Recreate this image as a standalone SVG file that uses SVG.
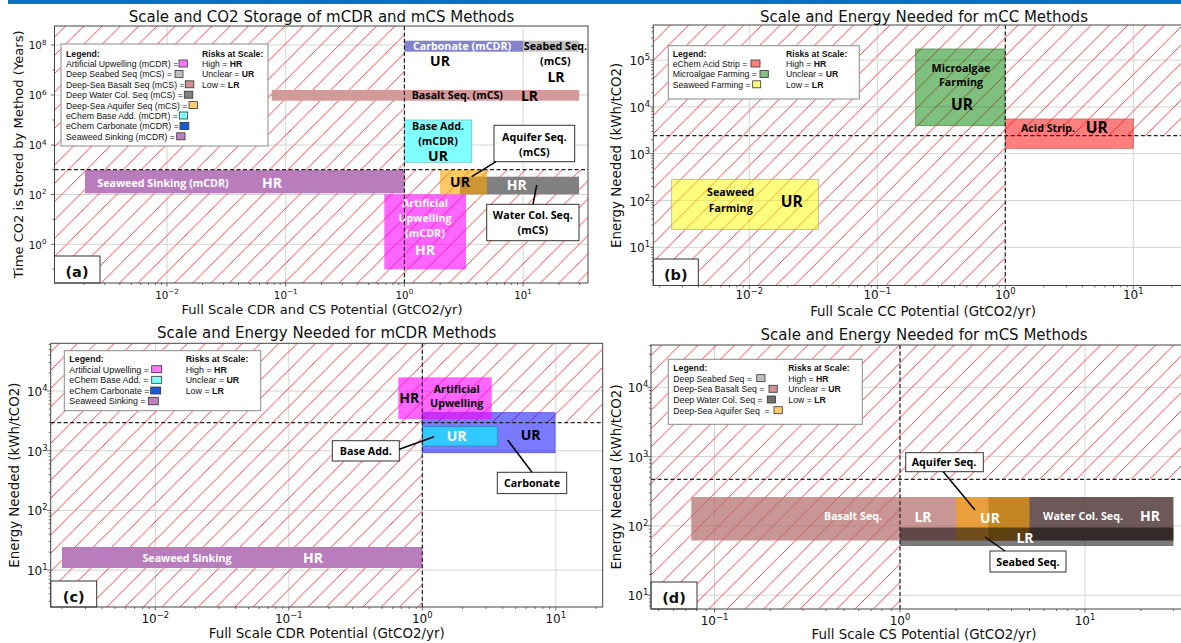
<svg xmlns="http://www.w3.org/2000/svg" width="1181" height="643" viewBox="0 0 1181 643">
<defs>
<pattern id="hatch" patternUnits="userSpaceOnUse" width="18.3" height="18.3">
<path d="M0,18.3L18.3,0M-2,2L2,-2M16.3,20.3L20.3,16.3" stroke="#ff2b2b" stroke-width="0.9"/>
</pattern>
<style>
.ax{font-family:"DejaVu Sans",sans-serif;fill:#111}
.ti{font-size:15px}
.xl{font-size:13.4px}
.tka{font-size:10.3px}
.tk{font-size:12px}
.lg{font-family:"Liberation Sans",Arial,sans-serif;font-size:8.7px;fill:#111}
.lgc{font-size:8.9px}
.b{font-weight:bold}
.an{font-family:"Open Sans",sans-serif;font-weight:700;font-size:10.7px}
.bg{font-family:"Open Sans",sans-serif;font-weight:700;font-size:14px}
.bg2{font-family:"Open Sans",sans-serif;font-weight:700;font-size:15.5px}
.w{fill:#fff}
.k{fill:#000}
.grid{stroke:#d4d4d4;stroke-width:1;fill:none}
.hat{fill:url(#hatch)}
.frame{fill:none;stroke:#444;stroke-width:1}
.tick{stroke:#444;stroke-width:0.8;fill:none}
.dash{stroke:#222;stroke-width:1.2;stroke-dasharray:4 2.5;fill:none}
.lgb{fill:#fff;stroke:#8a8a8a;stroke-width:1}
.sw{stroke:#333;stroke-width:0.8}
.co{fill:#fff;stroke:#333;stroke-width:1}
.conn{stroke:#000;stroke-width:1.5;fill:none}
.pl{font-family:"DejaVu Sans",sans-serif;font-weight:bold;font-size:14.5px;fill:#111}
.plb{fill:#fff;stroke:#333;stroke-width:1}
</style>
</defs>
<rect x="0" y="0" width="1181" height="643" fill="#fff"/>
<rect x="8" y="0" width="1173" height="4" fill="#0b70bf"/>

<!-- ================= PANEL A ================= -->
<g id="panel-a">
<path class="grid" d="M167,26V283M285.7,26V283M404.4,26V283M523.1,26V283M54.5,45H588M54.5,95H588M54.5,145H588M54.5,194.5H588M54.5,244.3H588"/>
<path class="hat" d="M54.5,26H404.4V169.7H588V283H54.5Z"/>
<g id="a-seaweed-sinking">
<rect x="85" y="170" width="319.4" height="23.3" fill="#b97dbe"/>
<text class="an w" x="163" y="186.5" text-anchor="middle">Seaweed Sinking (mCDR)</text>
<text class="bg w" x="272" y="187.5" text-anchor="middle">HR</text>
</g>
<g id="a-artificial-upwelling">
<rect x="384.3" y="194.3" width="81.7" height="75" fill="#ff00ff" fill-opacity="0.6"/>
<text class="an w" x="425" y="207" text-anchor="middle">Artificial</text>
<text class="an w" x="425" y="222" text-anchor="middle">Upwelling</text>
<text class="an w" x="425" y="237" text-anchor="middle">(mCDR)</text>
<text class="bg w" x="425" y="254.5" text-anchor="middle">HR</text>
</g>
<g id="a-carbonate">
<rect x="404.4" y="40.7" width="118.7" height="11" fill="#8383cc"/>
<text class="an w" x="462" y="49.5" text-anchor="middle">Carbonate (mCDR)</text>
<text class="bg k" x="440" y="66" text-anchor="middle">UR</text>
</g>
<g id="a-seabed">
<rect x="523.1" y="40.7" width="56" height="11" fill="#c0c0c0"/>
<text class="an k" x="555.5" y="49.5" text-anchor="middle">Seabed Seq.</text>
<text class="an k" x="555.3" y="64.5" text-anchor="middle">(mCS)</text>
<text class="bg k" x="556" y="81.5" text-anchor="middle">LR</text>
</g>
<g id="a-basalt">
<rect x="271.7" y="90" width="307.5" height="10.7" fill="#d49a9a"/>
<text class="an k" x="411.7" y="99.3">Basalt Seq. (mCS)</text>
<text class="bg k" x="529.5" y="100.5" text-anchor="middle">LR</text>
</g>
<g id="a-base-add">
<rect x="404.4" y="120" width="67.3" height="42.3" fill="#80ffff" stroke="#66c8c8" stroke-width="0.8"/>
<text class="an k" x="438" y="130" text-anchor="middle">Base Add.</text>
<text class="an k" x="438" y="144.5" text-anchor="middle">(mCDR)</text>
<text class="bg k" x="438" y="161" text-anchor="middle">UR</text>
</g>
<g id="a-water-col">
<rect x="460" y="176.7" width="119" height="17.6" fill="#808080"/>
</g>
<g id="a-aquifer">
<rect x="440" y="170" width="47" height="24.3" fill="#ffa500" fill-opacity="0.6"/>
<text class="bg k" x="460" y="187" text-anchor="middle">UR</text>
<text class="bg w" x="516.7" y="190" text-anchor="middle">HR</text>
</g>
<path class="dash" d="M54.5,169.7H588M404.4,26V283"/>
<g id="a-aquifer-callout">
<rect class="co" x="494" y="125.3" width="80.7" height="36.4"/>
<text class="an k" x="534.3" y="140.5" text-anchor="middle">Aquifer Seq.</text>
<text class="an k" x="534.3" y="155.5" text-anchor="middle">(mCS)</text>
</g>
<g id="a-watercol-callout">
<rect class="co" x="486.7" y="204.3" width="92.3" height="36.4"/>
<text class="an k" x="532.8" y="219.3" text-anchor="middle">Water Col. Seq.</text>
<text class="an k" x="532.8" y="234" text-anchor="middle">(mCS)</text>
</g>
<g id="a-legend">
<rect class="lgb" x="61" y="44" width="207" height="102"/>
<text class="lg b" x="66" y="56.5">Legend:</text>
<text class="lg" x="66" y="66.9">Artificial Upwelling (mCDR) = </text>
<rect class="sw" x="179" y="60" width="8.3" height="7" fill="#ff77ff"/>
<text class="lg" x="66" y="77.3">Deep Seabed Seq (mCS) = </text>
<rect class="sw" x="175" y="70.4" width="8" height="7" fill="#c0c0c0"/>
<text class="lg" x="66" y="87.7">Deep-Sea Basalt Seq (mCS) = </text>
<rect class="sw" x="185.3" y="80.8" width="8.5" height="7" fill="#d09090"/>
<text class="lg" x="66" y="98.1">Deep Water Col. Seq (mCS) = </text>
<rect class="sw" x="184.3" y="91.2" width="8.5" height="7" fill="#808080"/>
<text class="lg" x="66" y="108.5">Deep-Sea Aquifer Seq (mCS) = </text>
<rect class="sw" x="189" y="101.6" width="8.5" height="7" fill="#ffcc70"/>
<text class="lg" x="66" y="118.9">eChem Base Add. (mCDR) = </text>
<rect class="sw" x="179.3" y="112" width="8.3" height="7" fill="#80ffff"/>
<text class="lg" x="66" y="129.3">eChem Carbonate (mCDR) = </text>
<rect class="sw" x="180" y="122.4" width="8.8" height="7" fill="#1a5ad8"/>
<text class="lg" x="66" y="139.7">Seaweed Sinking (mCDR) = </text>
<rect class="sw" x="176.7" y="132.8" width="8.3" height="7" fill="#bf80bf"/>
<text class="lg b" x="202" y="56.5">Risks at Scale:</text>
<text class="lg" x="202" y="66.9">High = <tspan class="b">HR</tspan></text>
<text class="lg" x="202" y="77.3">Unclear = <tspan class="b">UR</tspan></text>
<text class="lg" x="202" y="87.7">Low = <tspan class="b">LR</tspan></text>
</g>
<g id="a-label">
<rect class="plb" x="54.5" y="256" width="45.5" height="27"/>
<text class="pl" x="77" y="277" text-anchor="middle">(a)</text>
</g>
<rect class="frame" x="54.5" y="26" width="533.5" height="257"/>
<path class="tick" d="M167,283v3.5M285.7,283v3.5M404.4,283v3.5M523.1,283v3.5M54.5,45h-3.5M54.5,95h-3.5M54.5,145h-3.5M54.5,194.5h-3.5M54.5,244.3h-3.5M54.5,70h-2M54.5,120h-2M54.5,169.7h-2M54.5,219.4h-2M54.5,269h-2"/>
<path class="tick" d="M84,283v2M104.9,283v2M119.8,283v2M131.3,283v2M140.7,283v2M148.6,283v2M155.5,283v2M161.5,283v2M202.7,283v2M223.6,283v2M238.5,283v2M250,283v2M259.4,283v2M267.3,283v2M274.2,283v2M280.2,283v2M321.4,283v2M342.3,283v2M357.2,283v2M368.7,283v2M378.1,283v2M386,283v2M392.9,283v2M398.9,283v2M440.1,283v2M461,283v2M475.9,283v2M487.4,283v2M496.8,283v2M504.7,283v2M511.6,283v2M517.6,283v2M558.8,283v2M579.7,283v2"/>
<text class="ax tka" x="167" y="298.5" text-anchor="middle">10<tspan font-size="7.2" dy="-4.5">−2</tspan></text>
<text class="ax tka" x="285.7" y="298.5" text-anchor="middle">10<tspan font-size="7.2" dy="-4.5">−1</tspan></text>
<text class="ax tka" x="404.4" y="298.5" text-anchor="middle">10<tspan font-size="7.2" dy="-4.5">0</tspan></text>
<text class="ax tka" x="523.1" y="298.5" text-anchor="middle">10<tspan font-size="7.2" dy="-4.5">1</tspan></text>
<text class="ax tka" x="46.5" y="49.3" text-anchor="end">10<tspan font-size="7.2" dy="-4.5">8</tspan></text>
<text class="ax tka" x="46.5" y="99.3" text-anchor="end">10<tspan font-size="7.2" dy="-4.5">6</tspan></text>
<text class="ax tka" x="46.5" y="149.3" text-anchor="end">10<tspan font-size="7.2" dy="-4.5">4</tspan></text>
<text class="ax tka" x="46.5" y="198.8" text-anchor="end">10<tspan font-size="7.2" dy="-4.5">2</tspan></text>
<text class="ax tka" x="46.5" y="248.6" text-anchor="end">10<tspan font-size="7.2" dy="-4.5">0</tspan></text>
<text class="ax ti" x="321.5" y="22" text-anchor="middle">Scale and CO2 Storage of mCDR and mCS Methods</text>
<text class="ax" font-size="13.1" x="322" y="314" text-anchor="middle">Full Scale CDR and CS Potential (GtCO2/yr)</text>
<text class="ax" font-size="13.1" transform="translate(23,154.5) rotate(-90)" text-anchor="middle">Time CO2 is Stored by Method (Years)</text>
</g>

<!-- ================= PANEL B ================= -->
<g id="panel-b">
<path class="grid" d="M749.3,25V285.5M877.3,25V285.5M1005.3,25V285.5M1133.3,25V285.5M653.3,60.1H1195M653.3,106.9H1195M653.3,153.7H1195M653.3,200.5H1195M653.3,247.3H1195"/>
<path class="hat" d="M653.3,25H1195V135.7H1005.3V285.5H653.3Z"/>
<g id="b-microalgae">
<rect x="915.7" y="49" width="89.3" height="76.7" fill="#008000" fill-opacity="0.5" stroke="#4f8f4f" stroke-width="0.8"/>
<text class="an k" x="961" y="71.5" text-anchor="middle">Microalgae</text>
<text class="an k" x="961" y="85.5" text-anchor="middle">Farming</text>
<text class="bg2 k" x="962" y="109.5" text-anchor="middle">UR</text>
</g>
<g id="b-acid-strip">
<rect x="1005.3" y="119" width="128" height="29.3" fill="#ff0000" fill-opacity="0.5" stroke="#d06060" stroke-width="0.8"/>
<text class="an k" x="1021" y="132.3">Acid Strip.</text>
<text class="bg2 k" x="1096.7" y="133.3" text-anchor="middle">UR</text>
</g>
<g id="b-seaweed-farming">
<rect x="671.7" y="179.3" width="146.6" height="50" fill="#ffff00" fill-opacity="0.5" stroke="#b0b0a0" stroke-width="0.8"/>
<text class="an k" x="730.7" y="196.3" text-anchor="middle">Seaweed</text>
<text class="an k" x="730.7" y="212" text-anchor="middle">Farming</text>
<text class="bg2 k" x="791.7" y="207" text-anchor="middle">UR</text>
</g>
<path class="dash" d="M653.3,135.7H1195M1005.3,25V285.5"/>
<g id="b-legend">
<rect class="lgb" x="668.3" y="45.7" width="191" height="53.3"/>
<text class="lg b" x="672.7" y="56.5">Legend:</text>
<text class="lg" x="672.7" y="66.9">eChem Acid Strip = </text>
<rect class="sw" x="751" y="60" width="9" height="7" fill="#ff8080"/>
<text class="lg" x="672.7" y="77.3">Microalgae Farming = </text>
<rect class="sw" x="760" y="70.4" width="8.3" height="7" fill="#80c080"/>
<text class="lg" x="672.7" y="87.7">Seaweed Farming =</text>
<rect class="sw" x="752.7" y="80.8" width="8" height="7" fill="#ffff80"/>
<text class="lg b" x="786" y="56.5">Risks at Scale:</text>
<text class="lg" x="786" y="66.9">High = <tspan class="b">HR</tspan></text>
<text class="lg" x="786" y="77.3">Unclear = <tspan class="b">UR</tspan></text>
<text class="lg" x="786" y="87.7">Low = <tspan class="b">LR</tspan></text>
</g>
<g id="b-label">
<rect class="plb" x="653.3" y="259" width="45" height="26.5"/>
<text class="pl" x="675.7" y="280" text-anchor="middle">(b)</text>
</g>
<rect class="frame" x="653.3" y="25" width="541.7" height="260.5"/>
<path class="tick" d="M749.3,285.5v3.5M877.3,285.5v3.5M1005.3,285.5v3.5M1133.3,285.5v3.5M653.3,60.1h-3.5M653.3,106.9h-3.5M653.3,153.7h-3.5M653.3,200.5h-3.5M653.3,247.3h-3.5"/>
<path class="tick" d="M659.8,285.5v2M682.4,285.5v2M698.4,285.5v2M710.8,285.5v2M720.9,285.5v2M729.5,285.5v2M736.9,285.5v2M743.4,285.5v2M787.8,285.5v2M810.4,285.5v2M826.4,285.5v2M838.8,285.5v2M848.9,285.5v2M857.5,285.5v2M864.9,285.5v2M871.4,285.5v2M915.8,285.5v2M938.4,285.5v2M954.4,285.5v2M966.8,285.5v2M976.9,285.5v2M985.5,285.5v2M992.9,285.5v2M999.4,285.5v2M1043.8,285.5v2M1066.4,285.5v2M1082.4,285.5v2M1094.8,285.5v2M1104.9,285.5v2M1113.5,285.5v2M1120.9,285.5v2M1127.4,285.5v2M1171.8,285.5v2"/>
<path class="tick" d="M653.3,280h-2M653.3,271.8h-2M653.3,265.9h-2M653.3,261.4h-2M653.3,257.7h-2M653.3,254.6h-2M653.3,251.8h-2M653.3,249.4h-2M653.3,233.2h-2M653.3,225h-2M653.3,219.1h-2M653.3,214.6h-2M653.3,210.9h-2M653.3,207.8h-2M653.3,205h-2M653.3,202.6h-2M653.3,186.4h-2M653.3,178.2h-2M653.3,172.3h-2M653.3,167.8h-2M653.3,164.1h-2M653.3,161h-2M653.3,158.2h-2M653.3,155.8h-2M653.3,139.6h-2M653.3,131.4h-2M653.3,125.5h-2M653.3,121h-2M653.3,117.3h-2M653.3,114.2h-2M653.3,111.4h-2M653.3,109h-2M653.3,92.8h-2M653.3,84.6h-2M653.3,78.7h-2M653.3,74.2h-2M653.3,70.5h-2M653.3,67.4h-2M653.3,64.6h-2M653.3,62.2h-2M653.3,46h-2M653.3,37.8h-2M653.3,31.9h-2M653.3,27.4h-2"/>
<text class="ax tk" x="749.3" y="299" text-anchor="middle">10<tspan font-size="8.4" dy="-5">−2</tspan></text>
<text class="ax tk" x="877.3" y="299" text-anchor="middle">10<tspan font-size="8.4" dy="-5">−1</tspan></text>
<text class="ax tk" x="1005.3" y="299" text-anchor="middle">10<tspan font-size="8.4" dy="-5">0</tspan></text>
<text class="ax tk" x="1133.3" y="299" text-anchor="middle">10<tspan font-size="8.4" dy="-5">1</tspan></text>
<text class="ax tk" x="650" y="65.1" text-anchor="end">10<tspan font-size="8.4" dy="-5">5</tspan></text>
<text class="ax tk" x="650" y="111.9" text-anchor="end">10<tspan font-size="8.4" dy="-5">4</tspan></text>
<text class="ax tk" x="650" y="158.7" text-anchor="end">10<tspan font-size="8.4" dy="-5">3</tspan></text>
<text class="ax tk" x="650" y="205.5" text-anchor="end">10<tspan font-size="8.4" dy="-5">2</tspan></text>
<text class="ax tk" x="650" y="252.3" text-anchor="end">10<tspan font-size="8.4" dy="-5">1</tspan></text>
<text class="ax ti" x="924" y="21.5" text-anchor="middle">Scale and Energy Needed for mCC Methods</text>
<text class="ax xl" x="923" y="315.5" text-anchor="middle">Full Scale CC Potential (GtCO2/yr)</text>
<text class="ax xl" transform="translate(621,155.3) rotate(-90)" text-anchor="middle">Energy Needed (kWh/tCO2)</text>
</g>

<!-- ================= PANEL C ================= -->
<g id="panel-c">
<path class="grid" d="M155.3,343.3V607M288.8,343.3V607M422.3,343.3V607M555.8,343.3V607M50.7,391H602.7M50.7,450.7H602.7M50.7,510.4H602.7M50.7,570.1H602.7"/>
<path class="hat" d="M50.7,343.3H602.7V422.7H422.3V607H50.7Z"/>
<g id="c-carbonate">
<rect x="422.3" y="412.7" width="132.7" height="40" fill="#0000ff" fill-opacity="0.52" stroke="#5050d0" stroke-width="0.8"/>
<text class="bg k" x="530.7" y="440" text-anchor="middle">UR</text>
</g>
<g id="c-artificial-upwelling">
<rect x="398.3" y="377.3" width="93.4" height="41.7" fill="#ff00ff" fill-opacity="0.6"/>
<text class="bg k" x="409.3" y="402.5" text-anchor="middle">HR</text>
<text class="an k" x="456.7" y="392.8" text-anchor="middle">Artificial</text>
<text class="an k" x="456.7" y="407" text-anchor="middle">Upwelling</text>
</g>
<g id="c-base-add">
<rect x="422.7" y="426.7" width="74.6" height="19.3" fill="#00ffff" fill-opacity="0.6" stroke="#2a8ab0" stroke-width="0.8"/>
<text class="bg w" x="456.7" y="440.5" text-anchor="middle">UR</text>
</g>
<g id="c-seaweed-sinking">
<rect x="62" y="547" width="360.3" height="21" fill="#b97dbe"/>
<text class="an w" x="187" y="562" text-anchor="middle">Seaweed Sinking</text>
<text class="bg w" x="313" y="563" text-anchor="middle">HR</text>
</g>
<path class="dash" d="M50.7,422.7H602.7M422.3,343.3V607"/>
<g id="c-base-add-callout">
<rect class="co" x="332.3" y="440.7" width="67" height="20.3"/>
<text class="an k" x="365.8" y="454.5" text-anchor="middle">Base Add.</text>
</g>
<g id="c-carbonate-callout">
<rect class="co" x="497.3" y="472.3" width="69.4" height="21.3"/>
<text class="an k" x="532" y="487" text-anchor="middle">Carbonate</text>
</g>
<g id="c-legend">
<rect class="lgb" x="64.3" y="350.7" width="196.4" height="60"/>
<text class="lg lgc b" x="69.3" y="362.3">Legend:</text>
<text class="lg lgc" x="69.3" y="372.7">Artificial Upwelling = </text>
<rect class="sw" x="151.7" y="365.7" width="10" height="7" fill="#ff77ff"/>
<text class="lg lgc" x="69.3" y="383.3">eChem Base Add. = </text>
<rect class="sw" x="151.7" y="376.3" width="10" height="7" fill="#80ffff"/>
<text class="lg lgc" x="69.3" y="394">eChem Carbonate = </text>
<rect class="sw" x="150.7" y="387" width="10" height="7" fill="#1a5ad8"/>
<text class="lg lgc" x="69.3" y="404.3">Seaweed Sinking = </text>
<rect class="sw" x="148.3" y="397.3" width="10" height="7.5" fill="#bf80bf"/>
<text class="lg lgc b" x="185.7" y="362.3">Risks at Scale:</text>
<text class="lg lgc" x="185.7" y="372.7">High = <tspan class="b">HR</tspan></text>
<text class="lg lgc" x="185.7" y="383.3">Unclear = <tspan class="b">UR</tspan></text>
<text class="lg lgc" x="185.7" y="394">Low = <tspan class="b">LR</tspan></text>
</g>
<g id="c-label">
<rect class="plb" x="50.7" y="581" width="46" height="26"/>
<text class="pl" x="73.7" y="602" text-anchor="middle">(c)</text>
</g>
<rect class="frame" x="50.7" y="343.3" width="552" height="263.7"/>
<path class="tick" d="M155.3,607v3.5M288.8,607v3.5M422.3,607v3.5M555.8,607v3.5M50.7,391h-3.5M50.7,450.7h-3.5M50.7,510.4h-3.5M50.7,570.1h-3.5"/>
<path class="tick" d="M62,607v2M85.5,607v2M102.2,607v2M115.1,607v2M125.7,607v2M134.6,607v2M142.3,607v2M149.2,607v2M195.5,607v2M219,607v2M235.7,607v2M248.6,607v2M259.2,607v2M268.1,607v2M275.8,607v2M282.7,607v2M329,607v2M352.5,607v2M369.2,607v2M382.1,607v2M392.7,607v2M401.6,607v2M409.3,607v2M416.2,607v2M462.5,607v2M486,607v2M502.7,607v2M515.6,607v2M526.2,607v2M535.1,607v2M542.8,607v2M549.7,607v2M596,607v2"/>
<path class="tick" d="M50.7,601.3h-2M50.7,593.9h-2M50.7,588.1h-2M50.7,583.3h-2M50.7,579.4h-2M50.7,575.9h-2M50.7,572.8h-2M50.7,552.1h-2M50.7,541.6h-2M50.7,534.2h-2M50.7,528.4h-2M50.7,523.6h-2M50.7,519.7h-2M50.7,516.2h-2M50.7,513.1h-2M50.7,492.4h-2M50.7,481.9h-2M50.7,474.5h-2M50.7,468.7h-2M50.7,463.9h-2M50.7,460h-2M50.7,456.5h-2M50.7,453.4h-2M50.7,432.7h-2M50.7,422.2h-2M50.7,414.8h-2M50.7,409h-2M50.7,404.2h-2M50.7,400.3h-2M50.7,396.8h-2M50.7,393.7h-2M50.7,373h-2M50.7,362.5h-2M50.7,355.1h-2M50.7,349.3h-2M50.7,344.5h-2"/>
<text class="ax tk" x="155.3" y="623" text-anchor="middle">10<tspan font-size="8.4" dy="-5">−2</tspan></text>
<text class="ax tk" x="288.8" y="623" text-anchor="middle">10<tspan font-size="8.4" dy="-5">−1</tspan></text>
<text class="ax tk" x="422.3" y="623" text-anchor="middle">10<tspan font-size="8.4" dy="-5">0</tspan></text>
<text class="ax tk" x="555.8" y="623" text-anchor="middle">10<tspan font-size="8.4" dy="-5">1</tspan></text>
<text class="ax tk" x="47.5" y="396" text-anchor="end">10<tspan font-size="8.4" dy="-5">4</tspan></text>
<text class="ax tk" x="47.5" y="455.7" text-anchor="end">10<tspan font-size="8.4" dy="-5">3</tspan></text>
<text class="ax tk" x="47.5" y="515.4" text-anchor="end">10<tspan font-size="8.4" dy="-5">2</tspan></text>
<text class="ax tk" x="47.5" y="575.1" text-anchor="end">10<tspan font-size="8.4" dy="-5">1</tspan></text>
<text class="ax ti" x="326.7" y="338.3" text-anchor="middle">Scale and Energy Needed for mCDR Methods</text>
<text class="ax xl" x="326.7" y="638" text-anchor="middle">Full Scale CDR Potential (GtCO2/yr)</text>
<text class="ax xl" transform="translate(18.5,475.2) rotate(-90)" text-anchor="middle">Energy Needed (kWh/tCO2)</text>
</g>

<!-- ================= PANEL D ================= -->
<g id="panel-d">
<path class="grid" d="M714.5,345V609M900,345V609M1085,345V609M651,387.3H1196M651,456.6H1196M651,525.9H1196M651,595.2H1196"/>
<path class="hat" d="M651,345H1196V479.3H900V609H651Z"/>
<g id="d-basalt">
<rect x="691.3" y="497" width="482.1" height="43.5" fill="rgb(180,110,110)" fill-opacity="0.72"/>
<text class="an w" x="853" y="520" text-anchor="middle">Basalt Seq.</text>
<text class="bg w" x="923" y="522" text-anchor="middle">LR</text>
</g>
<g id="d-water-col">
<rect x="988.4" y="497" width="185" height="43.5" fill="#303030" fill-opacity="0.6"/>
<text class="an w" x="1083" y="520" text-anchor="middle">Water Col. Seq.</text>
<text class="bg w" x="1150" y="521" text-anchor="middle">HR</text>
</g>
<g id="d-aquifer">
<rect x="955.8" y="497" width="73.7" height="43.5" fill="#ffa500" fill-opacity="0.6"/>
<text class="bg w" x="990" y="523" text-anchor="middle">UR</text>
</g>
<g id="d-seabed">
<rect x="900" y="527.5" width="273.4" height="18.5" fill="#000" fill-opacity="0.52"/>
<text class="bg w" x="1025" y="543" text-anchor="middle">LR</text>
</g>
<path class="dash" d="M651,479.3H1196M900,345V609"/>
<g id="d-aquifer-callout">
<rect class="co" x="905.7" y="452.7" width="77.6" height="19"/>
<text class="an k" x="944" y="466" text-anchor="middle">Aquifer Seq.</text>
</g>
<g id="d-seabed-callout">
<rect class="co" x="990" y="551" width="76" height="21"/>
<text class="an k" x="1028" y="566" text-anchor="middle">Seabed Seq.</text>
</g>
<g id="d-legend">
<rect class="lgb" x="668.3" y="359.3" width="194" height="65"/>
<text class="lg b" x="673.3" y="371">Legend:</text>
<text class="lg" x="673.3" y="381.7">Deep Seabed Seq = </text>
<rect class="sw" x="756.7" y="374.7" width="8.3" height="7" fill="#c0c0c0"/>
<text class="lg" x="673.3" y="392.3">Deep-Sea Basalt Seq = </text>
<rect class="sw" x="769" y="385.3" width="8.3" height="7" fill="#d09090"/>
<text class="lg" x="673.3" y="403">Deep Water Col. Seq = </text>
<rect class="sw" x="767.3" y="396" width="8.3" height="7" fill="#707070"/>
<text class="lg" x="673.3" y="413.7" style="white-space:pre">Deep-Sea Aquifer Seq  = </text>
<rect class="sw" x="774" y="406.7" width="8.3" height="7" fill="#ffcc70"/>
<text class="lg b" x="788.3" y="371">Risks at Scale:</text>
<text class="lg" x="788.3" y="381.7">High = <tspan class="b">HR</tspan></text>
<text class="lg" x="788.3" y="392.3">Unclear = <tspan class="b">UR</tspan></text>
<text class="lg" x="788.3" y="403">Low = <tspan class="b">LR</tspan></text>
</g>
<g id="d-label">
<rect class="plb" x="651" y="582" width="46" height="27"/>
<text class="pl" x="674" y="603" text-anchor="middle">(d)</text>
</g>
<rect class="frame" x="651" y="345" width="545" height="264"/>
<path class="tick" d="M714.5,609v3.5M900,609v3.5M1085,609v3.5M651,387.3h-3.5M651,456.6h-3.5M651,525.9h-3.5M651,595.2h-3.5"/>
<path class="tick" d="M658.7,609v2M673.4,609v2M685.8,609v2M696.5,609v2M706,609v2M770.3,609v2M802.9,609v2M826,609v2M844,609v2M858.7,609v2M871.1,609v2M881.8,609v2M891.3,609v2M955.8,609v2M988.4,609v2M1011.5,609v2M1029.5,609v2M1044.2,609v2M1056.6,609v2M1067.3,609v2M1076.8,609v2M1140.8,609v2M1173.4,609v2"/>
<path class="tick" d="M651,605.9h-2M651,601.9h-2M651,598.4h-2M651,574.3h-2M651,562.1h-2M651,553.5h-2M651,546.8h-2M651,541.3h-2M651,536.6h-2M651,532.6h-2M651,529.1h-2M651,505h-2M651,492.8h-2M651,484.2h-2M651,477.5h-2M651,472h-2M651,467.3h-2M651,463.3h-2M651,459.8h-2M651,435.7h-2M651,423.5h-2M651,414.9h-2M651,408.2h-2M651,402.7h-2M651,398h-2M651,394h-2M651,390.5h-2M651,366.4h-2M651,354.2h-2M651,345.6h-2"/>
<text class="ax tk" x="714.5" y="624.5" text-anchor="middle">10<tspan font-size="8.4" dy="-5">−1</tspan></text>
<text class="ax tk" x="900" y="624.5" text-anchor="middle">10<tspan font-size="8.4" dy="-5">0</tspan></text>
<text class="ax tk" x="1085" y="624.5" text-anchor="middle">10<tspan font-size="8.4" dy="-5">1</tspan></text>
<text class="ax tk" x="648.3" y="392.3" text-anchor="end">10<tspan font-size="8.4" dy="-5">4</tspan></text>
<text class="ax tk" x="648.3" y="461.6" text-anchor="end">10<tspan font-size="8.4" dy="-5">3</tspan></text>
<text class="ax tk" x="648.3" y="530.9" text-anchor="end">10<tspan font-size="8.4" dy="-5">2</tspan></text>
<text class="ax tk" x="648.3" y="600.2" text-anchor="end">10<tspan font-size="8.4" dy="-5">1</tspan></text>
<text class="ax ti" x="924" y="339.5" text-anchor="middle">Scale and Energy Needed for mCS Methods</text>
<text class="ax xl" x="924" y="639" text-anchor="middle">Full Scale CS Potential (GtCO2/yr)</text>
<text class="ax xl" transform="translate(621,477) rotate(-90)" text-anchor="middle">Energy Needed (kWh/tCO2)</text>
</g>

<!-- ================= CONNECTORS ================= -->
<g id="connectors">
<line class="conn" x1="496" y1="161.7" x2="471.7" y2="176.7"/>
<line class="conn" x1="536.7" y1="185" x2="533" y2="204.3"/>
<line class="conn" x1="399.3" y1="449.3" x2="434" y2="436.7"/>
<line class="conn" x1="507.7" y1="440" x2="532" y2="472.3"/>
<line class="conn" x1="943.3" y1="471.7" x2="975" y2="510"/>
<line class="conn" x1="1005" y1="551" x2="985" y2="537"/>
</g>
</svg>
